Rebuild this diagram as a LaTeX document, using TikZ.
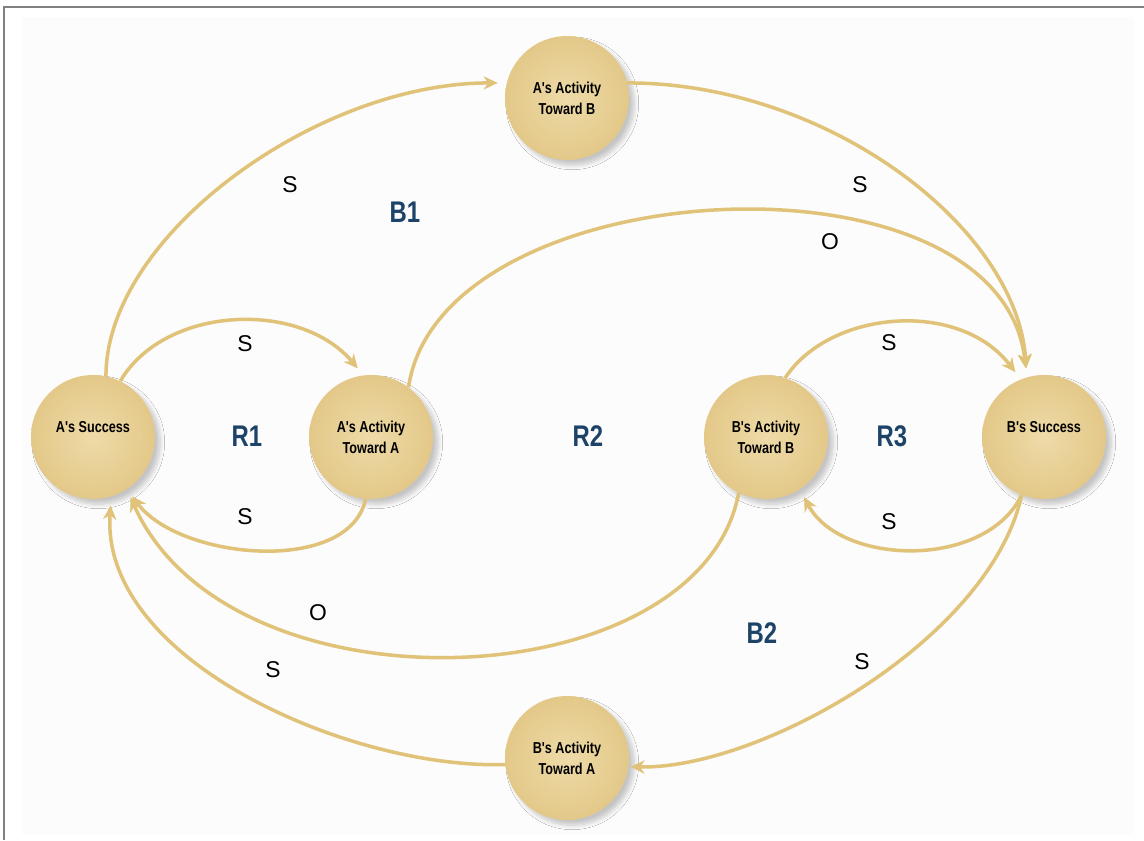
\documentclass[tikz,border=0pt]{standalone}
\usepackage{fontspec}
\setmainfont{Liberation Sans}
\newfontfamily\condfont[FakeStretch=0.8]{Liberation Sans}
\usetikzlibrary{arrows.meta,shadows.blur}
\definecolor{linkgold}{HTML}{E0C278}
\definecolor{bubblein}{HTML}{EEDBA8}
\definecolor{bubbleout}{HTML}{E3C888}
\definecolor{loopnavy}{HTML}{1D4468}
\definecolor{framegray}{HTML}{808080}
\definecolor{panel}{HTML}{FCFCFC}

\begin{document}
\begin{tikzpicture}[x=0.02cm,y=-0.02cm,
  bubble/.style={circle, minimum size=2.48cm, inner sep=0pt,
    shading=radial, inner color=bubblein, outer color=bubbleout,
    blur shadow={shadow xshift=3pt, shadow yshift=-3pt,
      shadow blur steps=8, shadow blur radius=2.5pt, shadow opacity=22},
    align=center, text=black, font=\condfont\bfseries\fontsize{9}{12}\selectfont},
  nodetext/.style={text=black, font=\condfont\bfseries\fontsize{9}{12}\selectfont},
  link/.style={draw=linkgold, line width=2pt,
    -{Stealth[length=8pt,width=7.5pt,inset=2.5pt]}, shorten >=5pt},
  polarity/.style={font=\fontsize{13}{13}\selectfont, text=black},
  loopname/.style={font=\condfont\bfseries\fontsize{17}{17}\selectfont, text=loopnavy}]

\useasboundingbox (0,0) rectangle (1144,840);

% page frame and panel
\fill[white] (0,0) rectangle (1144,840);
\fill[panel] (22,17) rectangle (1134,835);
\draw[framegray, line width=0.8pt] (1144,7) -- (4,7) -- (4,840);

% variables
\node[bubble, label={[nodetext, yshift=5.5pt]center:A's Success}] (as) at (93,437) {};
\node[bubble] (aa) at (371,437) {A's Activity\\Toward A};
\node[bubble] (ab) at (567,98) {A's Activity\\Toward B};
\node[bubble] (bb) at (766,437) {B's Activity\\Toward B};
\node[bubble, label={[nodetext, yshift=5.5pt]center:B's Success}] (bs) at (1044,437) {};
\node[bubble] (ba) at (567,758) {B's Activity\\Toward A};

% causal links
\draw[link] (as.78) .. controls +(0,-140) and +(-190,0) .. (ab.166);
\draw[link] (ab.14) .. controls +(200,0) and +(-10,-150) .. (bs.106);
\draw[link] (as.64) .. controls +(45,-76) and +(-63,-75) .. (aa.97);
\draw[link] (aa.-95) .. controls +(-16,76) and +(53,71) .. (as.-57);
\draw[link] (aa.53) .. controls +(32,-217) and +(-27,-237) .. (bs.106);
\draw[link] (bb.72) .. controls +(45,-68) and +(-61,-80) .. (bs.112);
\draw[link] (bs.-111) .. controls +(-37,75) and +(40,76) .. (bb.-57);
\draw[link] (bb.-116) .. controls +(-39,207) and +(103,231) .. (as.-57);
\draw[link, shorten >=1pt] (bs.-111) .. controls +(-32,145) and +(131,3) .. (ba.-8);
\draw[link] (ba.186) .. controls +(-154,5) and +(-11,164) .. (as.-73);

% link polarities
\node[polarity] (p1) at (290,185) {S};
\node[polarity] (p2) at (860,185) {S};
\node[polarity] (p3) at (830,242) {O};
\node[polarity] (p4) at (245,344) {S};
\node[polarity] (p5) at (245,517) {S};
\node[polarity] (p6) at (889,343) {S};
\node[polarity] (p7) at (889,522) {S};
\node[polarity] (p8) at (318,613) {O};
\node[polarity] (p9) at (273,670) {S};
\node[polarity] (p10) at (862,662) {S};

% loop names
\node[loopname] (b1) at (405,212) {B1};
\node[loopname] (r1) at (247,436) {R1};
\node[loopname] (r2) at (588,436) {R2};
\node[loopname] (r3) at (892,436) {R3};
\node[loopname] (b2) at (762,633) {B2};
\end{tikzpicture}
\end{document}
